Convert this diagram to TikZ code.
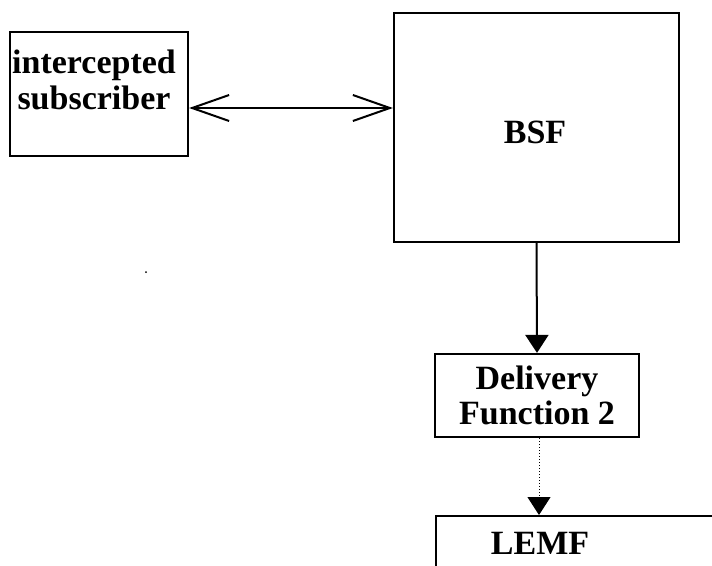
\documentclass[tikz,border=0pt]{standalone}
\usepackage{fontspec}
\setmainfont{Liberation Serif}
\usetikzlibrary{arrows.meta}

\begin{document}
\begin{tikzpicture}[x=1pt,y=-1pt,font=\bfseries\fontsize{34}{35}\selectfont,
  caixa/.style={draw,line width=2.2pt,inner sep=0pt},
  ple/.style={line width=2pt,-{Triangle[length=18pt,width=23pt]}},
  obert/.style={line width=2pt,{Straight Barb[length=37pt,width=26pt]}-{Straight Barb[length=37pt,width=26pt]}}]
\useasboundingbox (0,0) rectangle (712,565);
\clip (0,0) rectangle (712,565);
% Caixes
\node[caixa,minimum width=178pt,minimum height=124pt] (sub) at (99,94) {};
\node[align=center] (subtxt) at (94,80) {intercepted\\[1pt]subscriber};
\node[caixa,minimum width=285pt,minimum height=229pt] (bsf) at (536.5,127.5) {};
\node (bsftxt) at (535,132) {BSF};
\node[caixa,minimum width=204pt,minimum height=83pt,align=center] (df2) at (537,395.5) {Delivery\\Function 2};
\node[caixa,anchor=north west,minimum width=400pt,minimum height=120pt] (lemf) at (435,515) {};
\node (lemftxt) at (540,543) {LEMF};
% Fletxes
\draw[obert] ([yshift=-14pt]sub.east) -- ([yshift=-14pt]sub.east -| bsf.west);
\draw[ple] (bsf.south) -- (df2.north);
\draw[ple,line width=1pt,dotted] ([xshift=2pt]df2.south) -- ([xshift=2pt]df2.south |- lemf.north);
\fill (146,272) circle (1pt);
\end{tikzpicture}
\end{document}
